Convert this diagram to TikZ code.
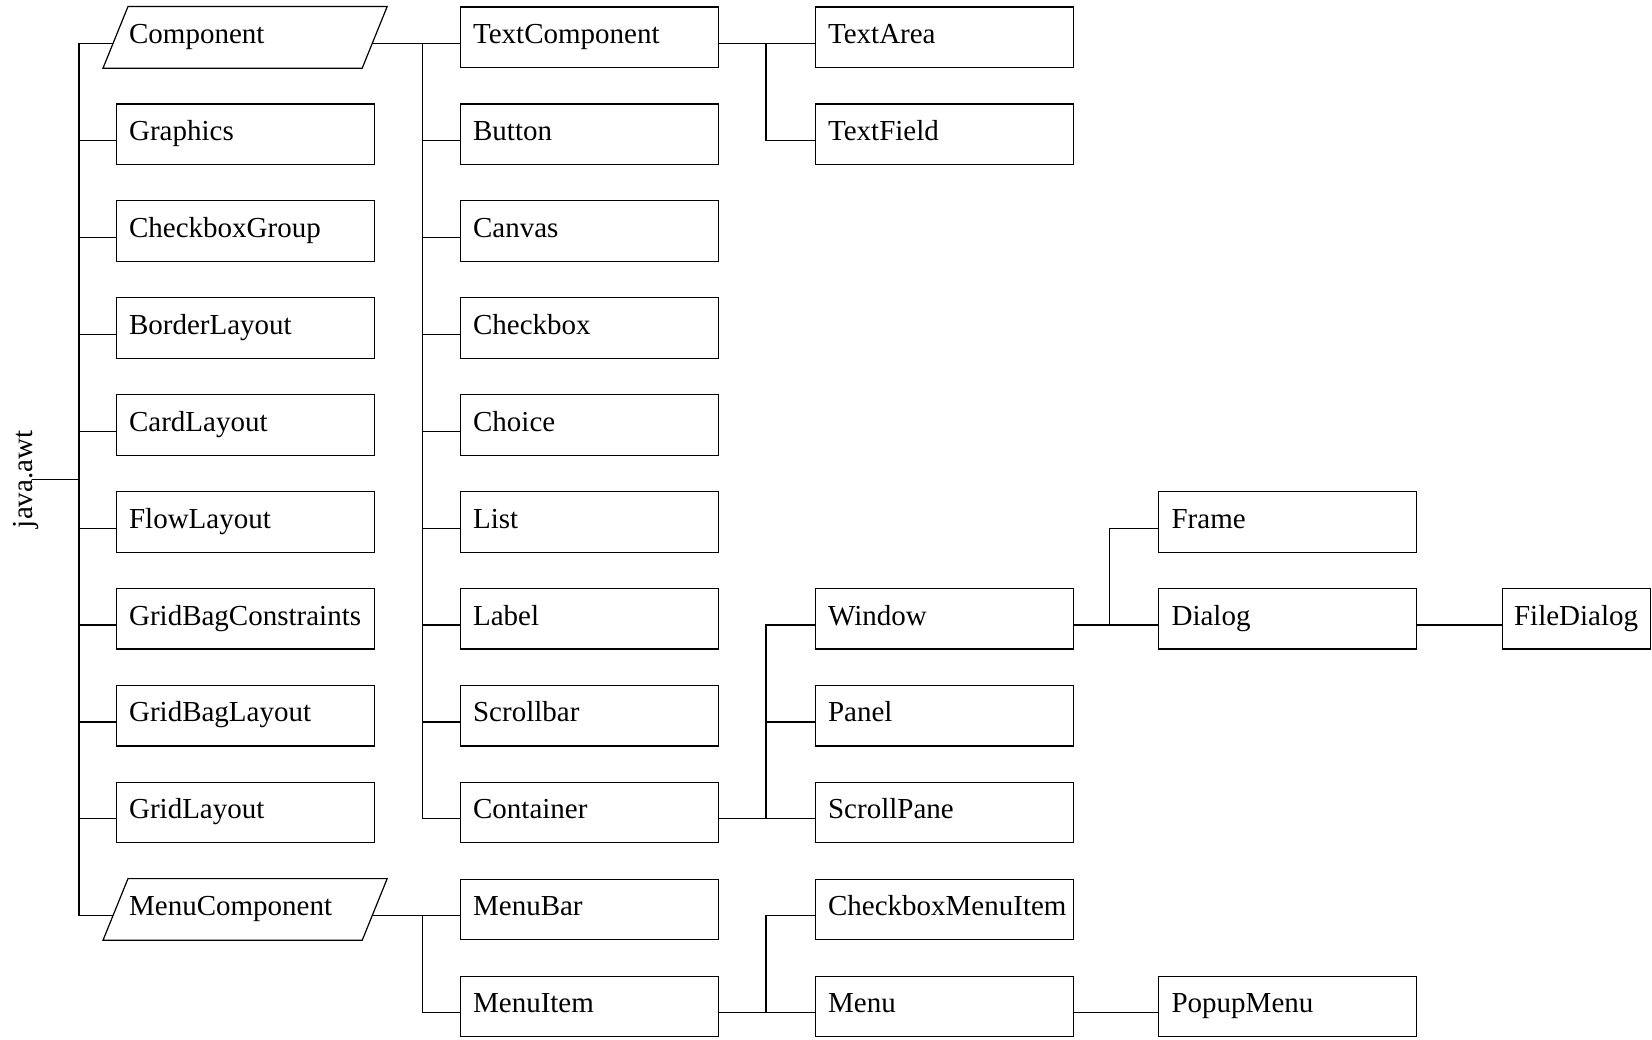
\documentclass[tikz,border=0pt]{standalone}
\usepackage{fontspec}
\setmainfont{Liberation Serif}
\begin{document}
\begin{tikzpicture}[x=1pt,y=-1pt,line width=1.2pt,
  lbl/.style={font=\fontsize{29}{34}\selectfont},
  box/.style={lbl,draw,anchor=north west,text width=232pt,align=left,inner xsep=13pt,inner ysep=0pt,text height=36.5pt,text depth=24pt},
  para/.style={box,draw=none},
  smallbox/.style={lbl,draw,anchor=north west,inner xsep=12pt,inner ysep=0pt,text height=36.5pt,text depth=24pt}]
\useasboundingbox (0,0) rectangle (1652,1040);
% columns
\def\ca{115.5}\def\cb{459.5}\def\cc{814.5}\def\cd{1158}\def\ce{1501.5}
% column 1
\node[para] (comp) at (\ca,6.5) {Component};
\node[box] (graphics) at (\ca,103.4) {Graphics};
\node[box] (cbgroup) at (\ca,200.3) {CheckboxGroup};
\node[box] (border) at (\ca,297.2) {BorderLayout};
\node[box] (card) at (\ca,394.1) {CardLayout};
\node[box] (flow) at (\ca,491.0) {FlowLayout};
\node[box] (gbc) at (\ca,587.9) {GridBagConstraints};
\node[box] (gbl) at (\ca,684.8) {GridBagLayout};
\node[box] (grid) at (\ca,781.7) {GridLayout};
\node[para] (menucomp) at (\ca,878.6) {MenuComponent};
% parallelogram outlines
\foreach \p in {comp,menucomp}
  \draw ([xshift=12.5pt]\p.north west) -- ([xshift=12.5pt]\p.north east)
     -- ([xshift=-12.5pt]\p.south east) -- ([xshift=-12.5pt]\p.south west) -- cycle;
% column 2
\node[box] (textcomp) at (\cb,6.5) {TextComponent};
\node[box] (button) at (\cb,103.4) {Button};
\node[box] (canvas) at (\cb,200.3) {Canvas};
\node[box] (checkbox) at (\cb,297.2) {Checkbox};
\node[box] (choice) at (\cb,394.1) {Choice};
\node[box] (list) at (\cb,491.0) {List};
\node[box] (label) at (\cb,587.9) {Label};
\node[box] (scrollbar) at (\cb,684.8) {Scrollbar};
\node[box] (container) at (\cb,781.7) {Container};
\node[box] (menubar) at (\cb,878.6) {MenuBar};
\node[box] (menuitem) at (\cb,975.5) {MenuItem};
% column 3
\node[box] (textarea) at (\cc,6.5) {TextArea};
\node[box] (textfield) at (\cc,103.4) {TextField};
\node[box] (window) at (\cc,587.9) {Window};
\node[box] (panel) at (\cc,684.8) {Panel};
\node[box] (scrollpane) at (\cc,781.7) {ScrollPane};
\node[box] (cbmenuitem) at (\cc,878.6) {CheckboxMenuItem};
\node[box] (menu) at (\cc,975.5) {Menu};
% column 4
\node[box] (frame) at (\cd,491.0) {Frame};
\node[box] (dialog) at (\cd,587.9) {Dialog};
\node[box] (popup) at (\cd,975.5) {PopupMenu};
% column 5
\node[smallbox] (filedialog) at (\ce,587.9) {FileDialog};
% root label
\node[lbl,rotate=90,anchor=base,inner sep=0pt] (java) at (32,479.3) {java.awt};
% trunks
\coordinate (t1) at (79,0);
\coordinate (t2) at (422.5,0);
\coordinate (t3) at (766,0);
\coordinate (t4) at (1109.5,0);
% connectors
\draw (java.base) -- (java.base -| t1);
\foreach \c in {graphics,cbgroup,border,card,flow,gbc,gbl,grid}
  \draw (java.base -| t1) |- (\c.base west);
\foreach \c in {comp,menucomp}
  \draw (java.base -| t1) |- ([xshift=-2.6pt]\c.base west);
\draw ([xshift=-2.6pt]comp.base east) -- (comp.base east -| t2);
\foreach \c in {textcomp,button,canvas,checkbox,choice,list,label,scrollbar,container}
  \draw (comp.base east -| t2) |- (\c.base west);
\draw (textcomp.base east) -- (textcomp.base east -| t3);
\foreach \c in {textarea,textfield}
  \draw (textcomp.base east -| t3) |- (\c.base west);
\draw (container.base east) -- (container.base east -| t3);
\foreach \c in {window,panel,scrollpane}
  \draw (container.base east -| t3) |- (\c.base west);
\draw (window.base east) -- (window.base east -| t4);
\foreach \c in {frame,dialog}
  \draw (window.base east -| t4) |- (\c.base west);
\draw (dialog.base east) -- (filedialog.base west);
\draw ([xshift=-2.6pt]menucomp.base east) -- (menucomp.base east -| t2);
\foreach \c in {menubar,menuitem}
  \draw (menucomp.base east -| t2) |- (\c.base west);
\draw (menuitem.base east) -- (menuitem.base east -| t3);
\foreach \c in {cbmenuitem,menu}
  \draw (menuitem.base east -| t3) |- (\c.base west);
\draw (menu.base east) -- (popup.base west);
\end{tikzpicture}
\end{document}
